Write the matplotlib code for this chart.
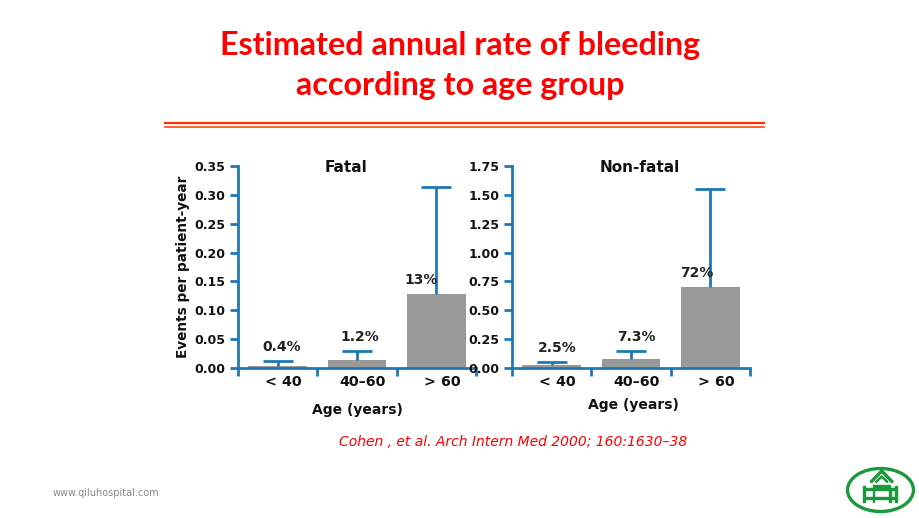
import matplotlib
matplotlib.use("Agg")
import matplotlib.pyplot as plt
from matplotlib.patches import Ellipse, Rectangle
from matplotlib.lines import Line2D
from matplotlib.transforms import ScaledTranslation

categories = ["< 40", "40\u201360", "> 60"]
fatal_values = [0.004, 0.013, 0.128]
fatal_upper = [0.012, 0.030, 0.313]
fatal_labels = ["0.4%", "1.2%", "13%"]
nonfatal_values = [0.030, 0.075, 0.700]
nonfatal_upper = [0.055, 0.150, 1.550]
nonfatal_labels = ["2.5%", "7.3%", "72%"]
fatal_ticks = [0.00, 0.05, 0.10, 0.15, 0.20, 0.25, 0.30, 0.35]
nonfatal_ticks = [0.00, 0.25, 0.50, 0.75, 1.00, 1.25, 1.50, 1.75]

W, H = 920, 518
fig = plt.figure(figsize=(W / 100, H / 100), dpi=100)
fig.patch.set_facecolor("white")

def fx(px):
    return px / W

def fy(py):
    return 1 - py / H

BLUE = "#1f78b4"
GREY = "#999999"
RED = "#ff0000"
TXT = "#111111"

# Title
fig.text(0.5, fy(45), "Estimated annual rate of bleeding", ha="center", va="center",
         fontsize=23.2, fontweight="bold", color=RED, family="Lato")
fig.text(0.5, fy(85), "according to age group", ha="center", va="center",
         fontsize=23.2, fontweight="bold", color=RED, family="Lato")
fig.add_artist(Line2D([fx(165), fx(764)], [fy(123.3), fy(123.3)], color="#ff3300", lw=1.6))
fig.add_artist(Line2D([fx(165), fx(764)], [fy(126.6), fy(126.6)], color="#ff4411", lw=1.2))


def panel(left_px, values, upper, labels, ticks, title, title_px, on_bar, label_dx, ymax):
    ax = fig.add_axes([fx(left_px), fy(368), fx(238), (368 - 166) / H])
    x = list(range(len(categories)))
    ax.bar(x, values, width=0.74, color=GREY, zorder=2)
    ax.vlines(x, values, upper, color=BLUE, lw=2, zorder=3)
    ax.plot(x, upper, linestyle="none", marker="_", markersize=22, mew=2,
            color=BLUE, zorder=3)
    for i, lab in enumerate(labels):
        anchor = values[i] if on_bar[i] else upper[i]
        ax.annotate(lab, (x[i], anchor), xytext=(label_dx[i], 5), textcoords="offset points",
                    ha="center", va="bottom", fontsize=10, fontweight="bold",
                    color="#222222", zorder=4)
    ax.set_xlim(-0.5, 2.5)
    ax.set_ylim(0, ymax)
    ax.set_yticks(ticks)
    ax.set_yticklabels([f"{t:.2f}" for t in ticks])
    ax.set_xticks([-0.5, 0.5, 1.5, 2.5])
    ax.set_xticklabels([])
    ax.set_xticks(x, minor=True)
    ax.set_xticklabels(categories, minor=True)
    ax.tick_params(axis="x", which="minor", length=0, pad=5)
    ax.tick_params(axis="x", which="major", length=6, width=2, color=BLUE)
    ax.tick_params(axis="y", length=6, width=2, color=BLUE, pad=3)
    shift = ScaledTranslation(4 / 72, 0, fig.dpi_scale_trans)
    for lab in ax.get_xticklabels(minor=True):
        lab.set_fontweight("bold")
        lab.set_fontsize(10.3)
        lab.set_color(TXT)
        lab.set_transform(lab.get_transform() + shift)
    for lab in ax.get_yticklabels():
        lab.set_fontweight("bold")
        lab.set_fontsize(9)
        lab.set_color(TXT)
    for s in ["top", "right"]:
        ax.spines[s].set_visible(False)
    for s in ["left", "bottom"]:
        ax.spines[s].set_color(BLUE)
        ax.spines[s].set_linewidth(2)
    ax.set_facecolor("none")
    fig.text(fx(title_px), fy(167), title, ha="center", va="center", fontsize=11,
             fontweight="bold", color=TXT)
    return ax

ax1 = panel(238, fatal_values, fatal_upper, fatal_labels, fatal_ticks, "Fatal", 346,
            [False, False, True], [3, 2, -11], 0.35)
ax1.set_ylabel("Events per patient-year", fontsize=9.8, fontweight="bold", labelpad=3,
               color=TXT)
ax1.set_xlabel("Age (years)", fontsize=10, fontweight="bold", labelpad=10, color=TXT)
ax2 = panel(512, nonfatal_values, nonfatal_upper, nonfatal_labels, nonfatal_ticks,
            "Non-fatal", 640, [False, False, True], [4, 4, -10], 1.75)
ax2.set_xlabel("Age (years)", fontsize=10, fontweight="bold", color=TXT)
ax2.xaxis.set_label_coords(0.51, -0.15)

# Citation
fig.text(fx(513), fy(442), "Cohen , et al. Arch Intern Med 2000; 160:1630\u201338",
         ha="center", va="center", fontsize=10, style="italic", color=RED)

# Footer
fig.text(fx(53), fy(493), "www.qiluhospital.com", ha="left", va="center",
         fontsize=7, color="#888888")

# Logo
lax = fig.add_axes([fx(843), fy(516), fx(74), 52 / H])
lax.set_xlim(0, 74)
lax.set_ylim(0, 52)
lax.axis("off")
G = "#1a9a3a"
lax.add_patch(Ellipse((37.5, 26), 66, 43, fill=False, edgecolor=G, lw=2.4))
lax.plot([27.5, 38.7, 49.9], [33.5, 45, 33.5], color=G, lw=2.4, solid_capstyle="butt")
lax.plot([32.5, 38.7, 44.9], [33.5, 39.5, 33.5], color=G, lw=1.8, solid_capstyle="butt")
lax.add_patch(Rectangle((30.3, 29.5), 16.7, 1.6, color=G))
lax.add_patch(Rectangle((19.7, 14.3), 2.4, 16, color=G))
lax.add_patch(Rectangle((52, 14.3), 2.4, 16, color=G))
lax.add_patch(Rectangle((22, 25.7), 30, 2, color=G))
lax.add_patch(Rectangle((22, 17.3), 30, 2, color=G))
lax.add_patch(Rectangle((29.6, 14.3), 1.5, 11.4, color=G))
lax.add_patch(Rectangle((46.3, 14.3), 1.5, 11.4, color=G))

fig.savefig("out.png", dpi=100, facecolor="white")
